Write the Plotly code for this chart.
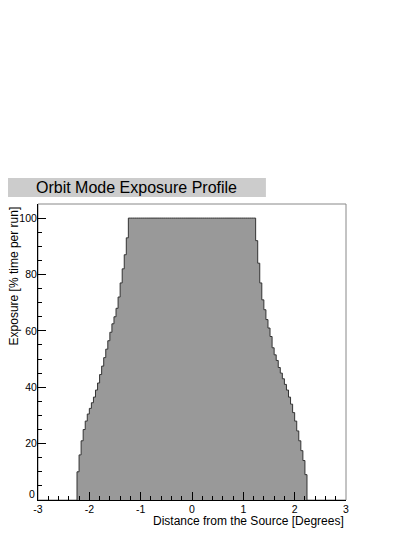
import numpy as np
import plotly.graph_objects as go

# histogram binning (degrees)
bin_low = -2.24
bin_width = 0.04

# exposure per bin [% time per run]
exposure_left = [10, 16, 21, 25, 28, 30.5, 32.5, 34.5, 36.5, 39, 41.5, 44.5, 47.5,
                 50.5, 53.5, 56.5, 59.5, 62.5, 65, 68, 72, 77, 82, 87, 93]
exposure_plateau = [100.0] * 62
exposure_right = [92, 84, 77, 71, 67.5, 64, 61, 58, 54, 51.5, 49.5, 47, 45, 43,
                  41, 39, 36.5, 34, 31, 28, 24.5, 21, 17.5, 14, 9]

x_ticks = [-3, -2, -1, 0, 1, 2, 3]
y_ticks = [0, 20, 40, 60, 80, 100]

FONT = "Liberation Sans, Arial, Helvetica, sans-serif"

exposure = exposure_left + exposure_plateau + exposure_right
edges = bin_low + bin_width * np.arange(len(exposure) + 1)

x_step = np.concatenate([[edges[0]], edges])
y_step = np.concatenate([[0.0], exposure, [0.0]])

fig = go.Figure()

fig.add_trace(
    go.Scatter(
        x=x_step,
        y=y_step,
        mode="lines",
        line={"shape": "hv", "color": "#333333", "width": 1},
        fill="tozeroy",
        fillcolor="#999999",
        hoverinfo="skip",
        showlegend=False,
    )
)

axis_common = dict(
    showgrid=False,
    zeroline=False,
    showline=True,
    linecolor="black",
    linewidth=1,
    ticks="inside",
    ticklen=8,
    tickcolor="black",
    tickwidth=1,
    tickfont=dict(family=FONT, size=10.5, color="black"),
)

fig.update_xaxes(
    range=[-3, 3],
    tickvals=x_ticks,
    ticktext=[str(v) for v in x_ticks],
    ticklabelstandoff=-1,
    minor=dict(dtick=0.2, tick0=-3, ticks="inside", ticklen=4, tickcolor="black", showgrid=False),
    **axis_common,
)
# ROOT lifts the "0" label above the axis corner, so it is drawn separately
fig.update_yaxes(
    range=[0, 105],
    tickvals=y_ticks,
    ticktext=["" if v == 0 else str(v) for v in y_ticks],
    ticklabelstandoff=-2,
    minor=dict(dtick=5, tick0=0, ticks="inside", ticklen=4, tickcolor="black", showgrid=False),
    **axis_common,
)
fig.add_annotation(text=str(y_ticks[0]), xref="paper", yref="y", x=0, y=y_ticks[0],
                   xanchor="right", yanchor="bottom", xshift=-1, yshift=-2, showarrow=False,
                   font=dict(family=FONT, size=10.5, color="black"))

# grey frame on top / right like ROOT
fig.add_shape(type="rect", xref="paper", yref="paper", x0=0, x1=1, y0=0, y1=1,
              line=dict(color="#888888", width=1), layer="below")

# title box
fig.add_shape(type="rect", xref="paper", yref="paper",
              x0=-0.1006, x1=0.740, y0=1.0236, y1=1.0878,
              fillcolor="#cccccc", line=dict(width=0), layer="below")
fig.add_annotation(text="Orbit Mode Exposure Profile", xref="paper", yref="paper",
                   x=0.32, y=1.0557, xanchor="center", yanchor="middle", showarrow=False,
                   font=dict(family=FONT, size=16, color="black"))

# axis titles, right aligned as in ROOT
fig.add_annotation(text="Distance from the Source [Degrees]", xref="paper", yref="paper",
                   x=1.0, y=-0.072, xanchor="right", yanchor="middle", showarrow=False,
                   font=dict(family=FONT, size=12, color="black"))
fig.add_annotation(text="Exposure [% time per run]", xref="paper", yref="paper",
                   x=-0.078, y=1.0, xanchor="center", yanchor="top", textangle=-90,
                   showarrow=False, font=dict(family=FONT, size=12, color="black"))

# the page body adds an 8px offset, so the figure is 8px smaller with trimmed left/top margins
fig.update_layout(
    width=407,
    height=529,
    margin=dict(l=30, r=69, t=196, b=37, pad=0),
    paper_bgcolor="white",
    plot_bgcolor="white",
    showlegend=False,
)

fig.write_html("out.html")
